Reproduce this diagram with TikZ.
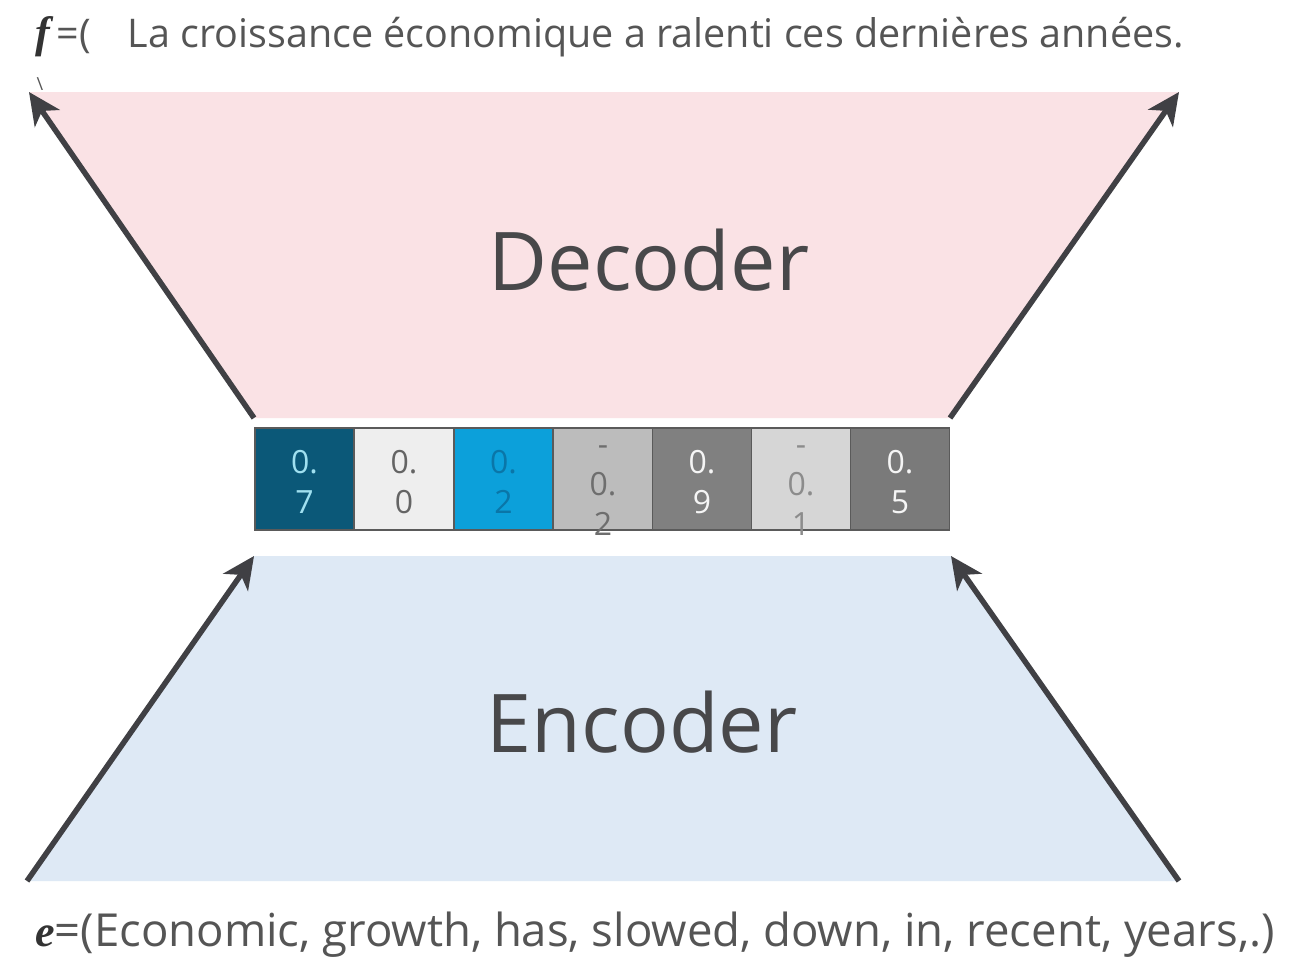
\documentclass[tikz,border=0pt]{standalone}
\usepackage{fontspec}
\setmainfont{Open Sans}
\newfontfamily\serifbi{Liberation Serif}
\usetikzlibrary{arrows.meta}
\definecolor{decfill}{RGB}{250,226,229}
\definecolor{encfill}{RGB}{222,233,245}
\definecolor{arrowgray}{RGB}{64,64,68}
\definecolor{txtgray}{RGB}{85,85,85}
\definecolor{bigtxt}{RGB}{72,72,74}
\definecolor{cellline}{RGB}{90,90,90}
\definecolor{ca}{RGB}{11,88,120}
\definecolor{cb}{RGB}{238,238,238}
\definecolor{cc}{RGB}{12,160,218}
\definecolor{cd}{RGB}{188,188,188}
\definecolor{ce}{RGB}{128,128,128}
\definecolor{cf}{RGB}{214,214,214}
\definecolor{cg}{RGB}{122,122,122}
\definecolor{ta}{RGB}{160,224,240}
\definecolor{tb}{RGB}{100,100,100}
\definecolor{tc}{RGB}{10,118,168}
\definecolor{td}{RGB}{110,110,110}
\definecolor{te}{RGB}{245,245,245}
\definecolor{tf}{RGB}{140,140,140}
\tikzset{
  arr/.style={draw=arrowgray, line width=5.5pt, -{Stealth[length=32pt, width=30pt, inset=9pt]}},
  cell/.style={draw=cellline, line width=1.5pt, minimum width=99pt, minimum height=102pt, inner sep=0pt, outer sep=0pt},
  celltxt/.style={align=center, inner sep=0pt, font=\fontsize{32}{40}\selectfont},
  toptxt/.style={text=txtgray, inner sep=0pt, font=\fontsize{39.5}{44}\selectfont},
  bottxt/.style={text=txtgray, inner sep=0pt, font=\fontsize{45.5}{50}\selectfont},
  bigtxt/.style={text=bigtxt, inner sep=0pt, font=\fontsize{81}{90}\selectfont}
}
\newcommand{\varsym}[1]{{\color{black!80}\serifbi\bfseries\itshape\fontsize{44}{50}\selectfont #1}}
\begin{document}
\begin{tikzpicture}[x=1pt,y=-1pt]
\useasboundingbox (0,0) rectangle (1293,966);
\fill[white] (0,0) rectangle (1293,966);

% stray fragment under f
\node[text=txtgray, inner sep=0pt, font=\fontsize{18}{20}\selectfont] (stray) at (40,84) {\textbackslash};

% decoder
\coordinate (dTL) at (29,92);
\coordinate (dTR) at (1179,92);
\coordinate (dBL) at (254,418);
\coordinate (dBR) at (950,418);
\fill[decfill] (dTL) -- (dTR) -- (dBR) -- (dBL) -- cycle;
\node[bigtxt, anchor=base] (dec) at (649,290) {Decoder};

% encoder
\coordinate (eTL) at (254,556);
\coordinate (eTR) at (951,556);
\coordinate (eBL) at (27,881);
\coordinate (eBR) at (1179,881);
\fill[encfill] (eTL) -- (eTR) -- (eBR) -- (eBL) -- cycle;
\node[bigtxt, anchor=base] (enc) at (642,752) {Encoder};

% arrows
\draw[arr] (dBL) -- (dTL);
\draw[arr] (dBR) -- (dTR);
\draw[arr] (eBL) -- (eTL);
\draw[arr] (eBR) -- (eTR);

% vector cells
\node[cell, fill=ca] (c1) at (304.5,479) {};
\node[cell, fill=cb] (c2) at (404,479) {};
\node[cell, fill=cc] (c3) at (503.5,479) {};
\node[cell, fill=cd] (c4) at (603,479) {};
\node[cell, fill=ce] (c5) at (702,479) {};
\node[cell, fill=cf] (c6) at (801,479) {};
\node[cell, fill=cg] (c7) at (900,479) {};
\node[celltxt, text=ta] (n1) at ([yshift=-3pt]c1) {0.\\7};
\node[celltxt, text=tb] (n2) at ([yshift=-3pt]c2) {0.\\0};
\node[celltxt, text=tc] (n3) at ([yshift=-3pt]c3) {0.\\2};
\node[celltxt, text=td] (n4) at ([yshift=-12pt]c4) {-\\0.\\2};
\node[celltxt, text=te] (n5) at ([yshift=-3pt]c5) {0.\\9};
\node[celltxt, text=tf] (n6) at ([yshift=-12pt]c6) {-\\0.\\1};
\node[celltxt, text=te] (n7) at ([yshift=-3pt]c7) {0.\\5};

% sentences
\node[toptxt, anchor=base west] (ftxt) at (35,48) {\varsym{f}\,=(\hspace{37pt}La croissance économique a ralenti ces dernières années.};
\node[bottxt, anchor=base west] (etxt) at (35,946) {\varsym{e}=(Economic, growth, has, slowed, down, in, recent, years,.)};
\end{tikzpicture}
\end{document}
